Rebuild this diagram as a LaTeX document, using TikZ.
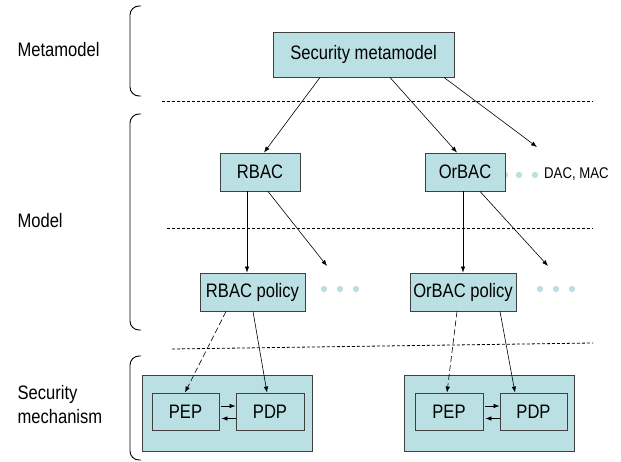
\documentclass[tikz,border=0pt]{standalone}
\usepackage{fontspec}
\setmainfont{Liberation Sans}
\newfontfamily\narrowsans{Liberation Sans}[FakeStretch=0.85]
\usepackage{xcolor}
\usetikzlibrary{arrows.meta}

\definecolor{boxfill}{RGB}{187,224,227}
\definecolor{boxline}{RGB}{64,64,64}

\begin{document}
\begin{tikzpicture}[x=1pt, y=-1pt,
  block/.style={rectangle, draw=boxline, fill=boxfill, line width=0.9pt, inner sep=0pt,
                font=\narrowsans\fontsize{19.5}{22}\selectfont},
  level/.style={anchor=west, align=left, font=\narrowsans\fontsize{19.5}{24}\selectfont},
  sep/.style={line width=0.8pt, dash pattern=on 3pt off 2pt},
  brace/.style={line width=0.9pt, rounded corners=9pt},
  link/.style={line width=0.6pt, -{Latex[length=6pt,width=4.5pt]}},
  moredots/.style={fill=boxfill, draw=none}]

\useasboundingbox (0,0) rectangle (621,461);

% levels on the left
\node[level] (lmeta) at (14,50) {Metamodel};
\node[level] (lmodel) at (14,221) {Model};
\node[level] (lmech) at (14,405) {Security\\mechanism};

\draw[brace] (141,6) -- (130,6) -- (130,96) -- (141,96);
\draw[brace] (141,114) -- (130,114) -- (130,330) -- (141,330);
\draw[brace] (141,356) -- (130,356) -- (130,460) -- (141,460);

% separators
\draw[sep] (162,101) -- (593,101);
\draw[sep] (167,228) -- (593,228);
\draw[sep] (172,349) -- (593,343);

% dots
\foreach \x in {505,519,535} \fill[moredots] (\x,175) circle (3.2);
\foreach \x in {324,340,356,540,556,572} \fill[moredots] (\x,289) circle (3.2);

% models
\node[block, minimum width=181pt, minimum height=45pt] (meta) at (363.5,54.5) {Security metamodel};
\node[block, minimum width=80pt, minimum height=38pt] (rbac) at (260,172) {RBAC};
\node[block, minimum width=80pt, minimum height=38pt] (orbac) at (465,172) {OrBAC};
\node[anchor=west, inner sep=0pt, font=\narrowsans\fontsize{15.5}{17}\selectfont] (dac) at (544,174) {DAC, MAC};
\node[block, minimum width=105pt, minimum height=38pt] (rbacpol) at (252.5,292) {RBAC policy};
\node[block, minimum width=106pt, minimum height=38pt] (orbacpol) at (463,292) {OrBAC policy};

% mechanisms
\node[block, minimum width=170pt, minimum height=76pt] (mechl) at (227,413) {};
\node[block, minimum width=170pt, minimum height=76pt] (mechr) at (489,413) {};
\node[block, minimum width=67pt, minimum height=37pt] (pepl) at (185.5,411.5) {PEP};
\node[block, minimum width=68pt, minimum height=37pt] (pdpl) at (270,411.5) {PDP};
\node[block, minimum width=68pt, minimum height=37pt] (pepr) at (449,411.5) {PEP};
\node[block, minimum width=67pt, minimum height=37pt] (pdpr) at (533.5,411.5) {PDP};

\coordinate (dacend) at (537,147);
\coordinate (rbacmore) at (327,266);
\coordinate (orbacmore) at (548,266);

\draw[link] ([xshift=-43.5pt]meta.south) -- ([xshift=4pt]rbac.north);
\draw[link] ([xshift=26.5pt]meta.south) -- ([xshift=-8pt]orbac.north);
\draw[link] ([xshift=80.5pt]meta.south) -- (dacend);

\draw[link] ([xshift=-13pt]rbac.south) -- ([xshift=-5.5pt]rbacpol.north);
\draw[link] ([xshift=8pt]rbac.south) -- (rbacmore);
\draw[link] ([xshift=-2pt]orbac.south) -- (orbacpol.north);
\draw[link] ([xshift=15pt]orbac.south) -- (orbacmore);

\draw[link, dash pattern=on 6pt off 3pt] ([xshift=-26.5pt]rbacpol.south) -- ([xshift=-0.5pt]pepl.north);
\draw[link] ([xshift=0.5pt]rbacpol.south) -- ([xshift=-3pt]pdpl.north);
\draw[link, dash pattern=on 6pt off 3pt] ([xshift=-6pt]orbacpol.south) -- ([xshift=-2pt]pepr.north);
\draw[link] ([xshift=37pt]orbacpol.south) -- ([xshift=-18.5pt]pdpr.north);

\draw[link] ([xshift=2pt, yshift=5.5pt]pepl.east) -- ([yshift=5.5pt]pdpl.west);
\draw[link] ([yshift=-7pt]pdpl.west) -- ([xshift=2pt, yshift=-7pt]pepl.east);
\draw[link] ([xshift=2pt, yshift=5.5pt]pepr.east) -- ([yshift=5.5pt]pdpr.west);
\draw[link] ([yshift=-7pt]pdpr.west) -- ([xshift=2pt, yshift=-7pt]pepr.east);
\end{tikzpicture}
\end{document}
